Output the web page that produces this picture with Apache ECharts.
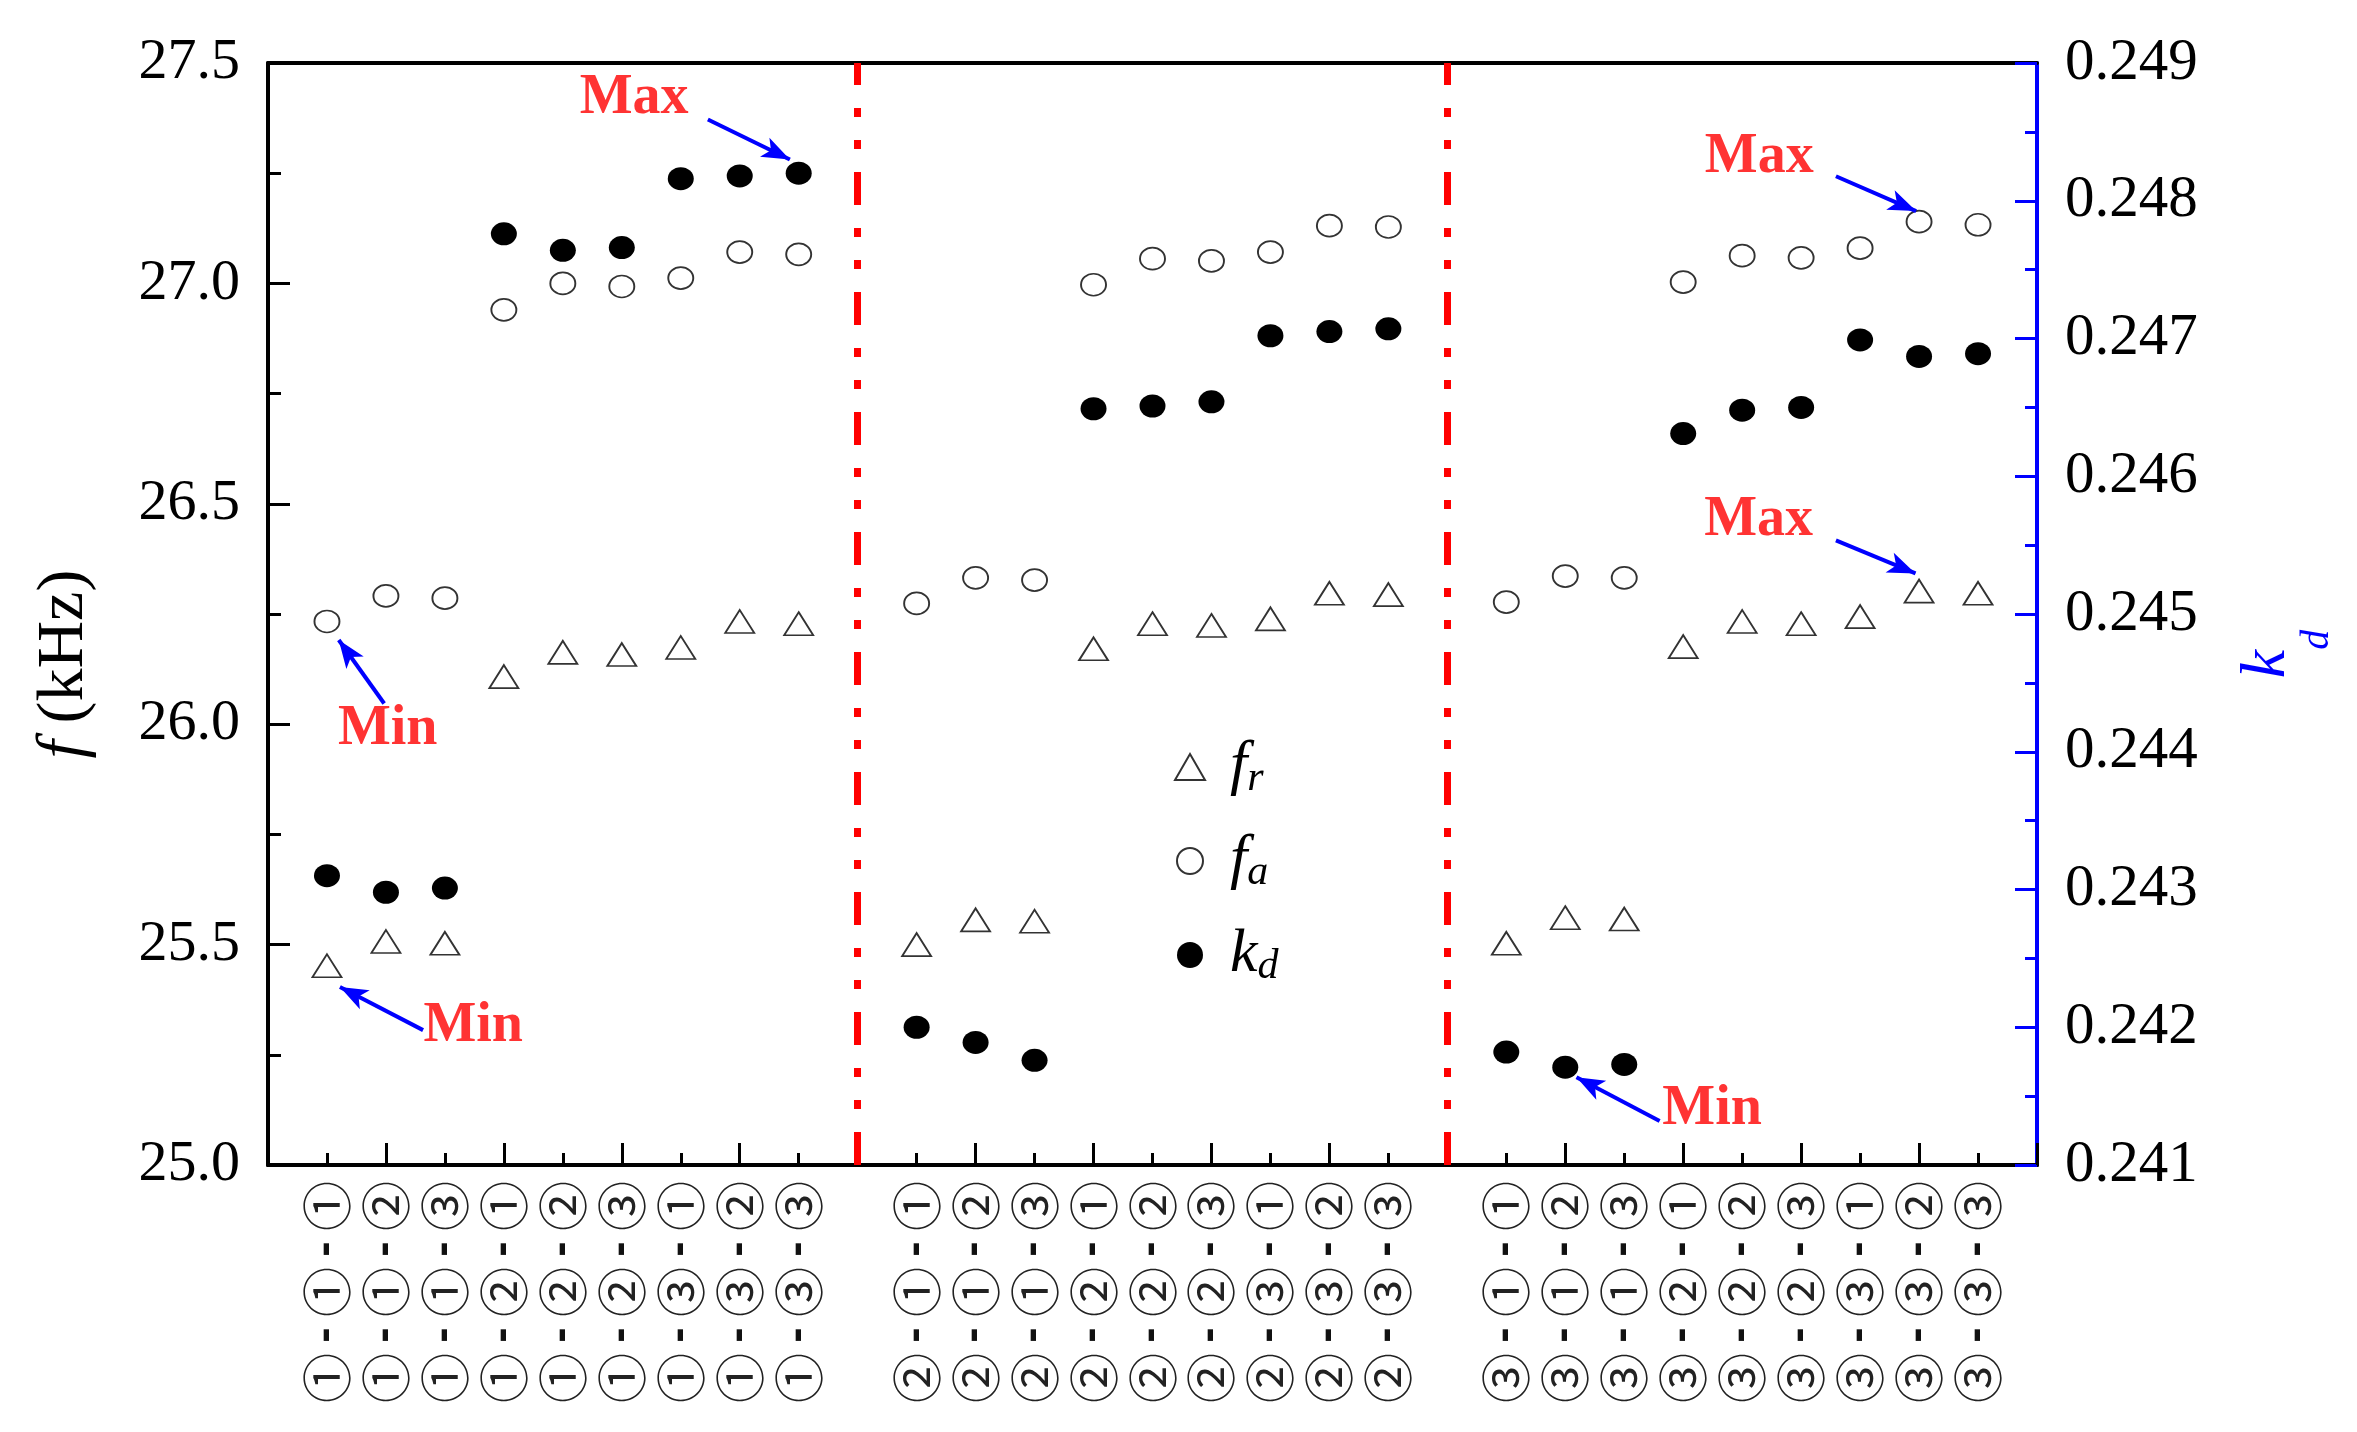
<!DOCTYPE html>
<html lang="en">
<head>
    <meta charset="UTF-8">
    <title>fr / fa / kd</title>
    <script src="https://cdn.jsdelivr.net/npm/echarts@6.0.0/dist/echarts.min.js"></script>
    <style>
        body {
            margin: 0;
            background: #fff;
        }

        #main {
            width: 2357px;
            height: 1432px;
        }
    </style>
</head>
<body>
    <div id="main"></div>

    <script>
        // sample labels (group - middle - last), one per point
        const labels = [
            '①-①-①', '①-①-②', '①-①-③', '①-②-①', '①-②-②', '①-②-③', '①-③-①', '①-③-②', '①-③-③',
            '②-①-①', '②-①-②', '②-①-③', '②-②-①', '②-②-②', '②-②-③', '②-③-①', '②-③-②', '②-③-③',
            '③-①-①', '③-①-②', '③-①-③', '③-②-①', '③-②-②', '③-②-③', '③-③-①', '③-③-②', '③-③-③'
        ];

        // f_r (kHz)
        const fr = [
            25.452, 25.507, 25.503, 26.108, 26.163, 26.158, 26.174, 26.233, 26.228,
            25.500, 25.556, 25.553, 26.171, 26.228, 26.224, 26.239, 26.297, 26.294,
            25.503, 25.561, 25.558, 26.176, 26.233, 26.228, 26.244, 26.302, 26.297
        ];

        // f_a (kHz)
        const fa = [
            26.233, 26.291, 26.286, 26.940, 27.000, 26.993, 27.012, 27.071, 27.066,
            26.274, 26.332, 26.327, 26.997, 27.056, 27.051, 27.071, 27.131, 27.128,
            26.277, 26.336, 26.332, 27.003, 27.063, 27.058, 27.080, 27.140, 27.133
        ];

        // k_d (right axis)
        const kd = [
            0.24310, 0.24298, 0.24301, 0.24776, 0.24764, 0.24766, 0.24816, 0.24818, 0.24820,
            0.24200, 0.24189, 0.24176, 0.24649, 0.24651, 0.24654, 0.24702, 0.24705, 0.24707,
            0.24182, 0.24171, 0.24173, 0.24631, 0.24648, 0.24650, 0.24699, 0.24687, 0.24689
        ];

        // group separators (x slots)
        const separators = [10, 20];

        // Max / Min notes, in (slot, kHz)
        const noteText = ['Max', 'Min', 'Min', 'Max', 'Max', 'Min'];
        const notePos = [[6.21, 27.42], [2.03, 25.988], [3.48, 25.314], [25.29, 27.286], [25.28, 26.463], [24.49, 25.126]];
        const arrowFrom = [[7.46, 27.372], [1.97, 26.047], [2.63, 25.306], [26.59, 27.243], [26.59, 26.417], [23.60, 25.100]];
        const arrowTo = [[8.85, 27.281], [1.20, 26.191], [1.22, 25.404], [27.95, 27.164], [27.94, 26.342], [22.19, 25.199]];

        // each group of 9 takes 9 slots, plus one empty slot for the separator
        const xPos = labels.map((_, i) => i + 1 + Math.floor(i / 9));

        const serif = '"Liberation Serif", "Times New Roman", serif';
        const cjk = '"Noto Sans CJK JP", "DejaVu Sans", sans-serif';

        function circledLabel(v) {
            const i = xPos.indexOf(v);
            if (i < 0) return '';
            return labels[i].split('-').map(c => `{c|${c}}`).join('{d|-}');
        }

        const chart = echarts.init(document.getElementById('main'));

        const option = {
            backgroundColor: '#fff',
            animation: false,
            grid: {
                left: 268, right: 320, top: 63, bottom: 267,
                containLabel: false,
                outerBoundsMode: 'none'
            },
            legend: {
                data: ['fr', 'fa', 'kd'],
                orient: 'vertical',
                left: 1169,
                top: 731,
                itemWidth: 30,
                itemHeight: 26,
                itemGap: 30,
                formatter: name => ({
                    fr: '{f|f}{s|r}',
                    fa: '{f|f}{s|a}',
                    kd: '{f|k}{s|d}'
                })[name],
                textStyle: {
                    rich: {
                        f: { fontFamily: serif, fontStyle: 'italic', fontSize: 62, lineHeight: 66, color: '#000', padding: [0, 0, 0, 20] },
                        s: { fontFamily: serif, fontStyle: 'italic', fontSize: 42, lineHeight: 40, verticalAlign: 'bottom', color: '#000' }
                    }
                }
            },
            xAxis: [
                {
                    // bottom line, short ticks and circled labels under every slot
                    type: 'value',
                    min: 0, max: 30, interval: 1,
                    position: 'bottom',
                    splitLine: { show: false },
                    axisLine: { show: true, onZero: false, lineStyle: { color: '#000', width: 4 } },
                    axisTick: { show: true, inside: true, length: 12, lineStyle: { color: '#000', width: 3 } },
                    axisLabel: {
                        rotate: 90,
                        margin: 16,
                        formatter: circledLabel,
                        rich: {
                            c: { fontFamily: cjk, fontSize: 50, color: '#222' },
                            d: { fontFamily: 'DejaVu Sans', fontWeight: 'bold', fontSize: 38, width: 36, align: 'center', color: '#111' }
                        }
                    }
                },
                {
                    // long ticks on even slots
                    type: 'value',
                    min: 0, max: 30, interval: 2,
                    position: 'bottom',
                    splitLine: { show: false },
                    axisLine: { show: true, onZero: false, lineStyle: { color: '#000', width: 4 } },
                    axisTick: { show: true, inside: true, length: 22, lineStyle: { color: '#000', width: 3 } },
                    axisLabel: { show: true, formatter: () => '' }
                },
                {
                    // top frame
                    type: 'value',
                    min: 0, max: 30,
                    position: 'top',
                    splitLine: { show: false },
                    axisLine: { show: true, onZero: false, lineStyle: { color: '#000', width: 4 } },
                    axisTick: { show: false },
                    axisLabel: { show: false }
                }
            ],
            yAxis: [
                {
                    type: 'value',
                    min: 25, max: 27.5, interval: 0.5,
                    position: 'left',
                    name: '{i|f}{n| (kHz)}',
                    nameLocation: 'middle',
                    nameRotate: 90,
                    nameGap: 170,
                    nameTextStyle: {
                        padding: [0, 100, 0, 0],
                        rich: {
                            i: { fontFamily: serif, fontStyle: 'italic', fontSize: 66, color: '#000' },
                            n: { fontFamily: serif, fontSize: 66, color: '#000' }
                        }
                    },
                    splitLine: { show: false },
                    axisLine: { show: true, onZero: false, lineStyle: { color: '#000', width: 4 } },
                    axisTick: { show: true, inside: true, length: 22, lineStyle: { color: '#000', width: 3 } },
                    minorTick: { show: true, splitNumber: 2, length: 13, lineStyle: { color: '#000', width: 3 } },
                    axisLabel: {
                        margin: 28,
                        fontFamily: serif,
                        fontSize: 58,
                        color: '#000',
                        formatter: v => v.toFixed(1)
                    }
                },
                {
                    type: 'value',
                    min: 0.241, max: 0.249, interval: 0.001,
                    position: 'right',
                    name: '{k|k}{d|d}',
                    nameLocation: 'middle',
                    nameRotate: 90,
                    nameGap: 160,
                    nameTextStyle: {
                        padding: [0, 80, 0, 0],
                        rich: {
                            k: { fontFamily: serif, fontStyle: 'italic', fontSize: 64, lineHeight: 140, color: '#0000ff' },
                            d: { fontFamily: serif, fontStyle: 'italic', fontSize: 40, lineHeight: 40, verticalAlign: 'bottom', color: '#0000ff' }
                        }
                    },
                    splitLine: { show: false },
                    axisLine: { show: true, onZero: false, lineStyle: { color: '#0000ff', width: 4 } },
                    axisTick: { show: true, inside: true, length: 22, lineStyle: { color: '#0000ff', width: 3 } },
                    minorTick: { show: true, splitNumber: 2, length: 12, lineStyle: { color: '#0000ff', width: 3 } },
                    axisLabel: {
                        margin: 28,
                        fontFamily: serif,
                        fontSize: 59,
                        color: '#000',
                        formatter: v => v.toFixed(3)
                    }
                }
            ],
            series: [
                {
                    name: 'fr',
                    type: 'scatter',
                    yAxisIndex: 0,
                    symbol: 'triangle',
                    symbolSize: [29, 23],
                    itemStyle: { color: '#fff', borderColor: '#333', borderWidth: 1.8, opacity: 1 },
                    data: fr.map((v, i) => [xPos[i], v]),
                    markLine: {
                        silent: true,
                        symbol: 'none',
                        label: { show: false },
                        lineStyle: { color: '#ff0000', width: 7, type: [33, 23, 9, 23, 9, 23] },
                        data: separators.map(s => ({ xAxis: s }))
                    }
                },
                {
                    name: 'fa',
                    type: 'scatter',
                    yAxisIndex: 0,
                    symbol: 'circle',
                    symbolSize: [25, 22],
                    itemStyle: { color: '#fff', borderColor: '#333', borderWidth: 1.8, opacity: 1 },
                    data: fa.map((v, i) => [xPos[i], v])
                },
                {
                    name: 'kd',
                    type: 'scatter',
                    yAxisIndex: 1,
                    symbol: 'circle',
                    symbolSize: [26, 23],
                    itemStyle: { color: '#000', opacity: 1 },
                    data: kd.map((v, i) => [xPos[i], v])
                },
                {
                    // Max / Min notes with blue arrows
                    name: 'notes',
                    type: 'scatter',
                    yAxisIndex: 0,
                    symbolSize: 0,
                    silent: true,
                    label: {
                        show: true,
                        position: 'inside',
                        formatter: p => p.name,
                        fontFamily: serif,
                        fontWeight: 'bold',
                        fontSize: 56,
                        color: '#ff0000'
                    },
                    data: notePos.map((p, i) => ({ name: noteText[i], value: p })),
                    markLine: {
                        silent: true,
                        symbol: ['none', 'arrow'],
                        symbolSize: [16, 28],
                        label: { show: false },
                        lineStyle: { color: '#0000ff', width: 4, type: 'solid' },
                        data: arrowFrom.map((a, i) => [{ coord: a }, { coord: arrowTo[i] }])
                    }
                }
            ]
        };

        chart.setOption(option);
    </script>
</body>
</html>
